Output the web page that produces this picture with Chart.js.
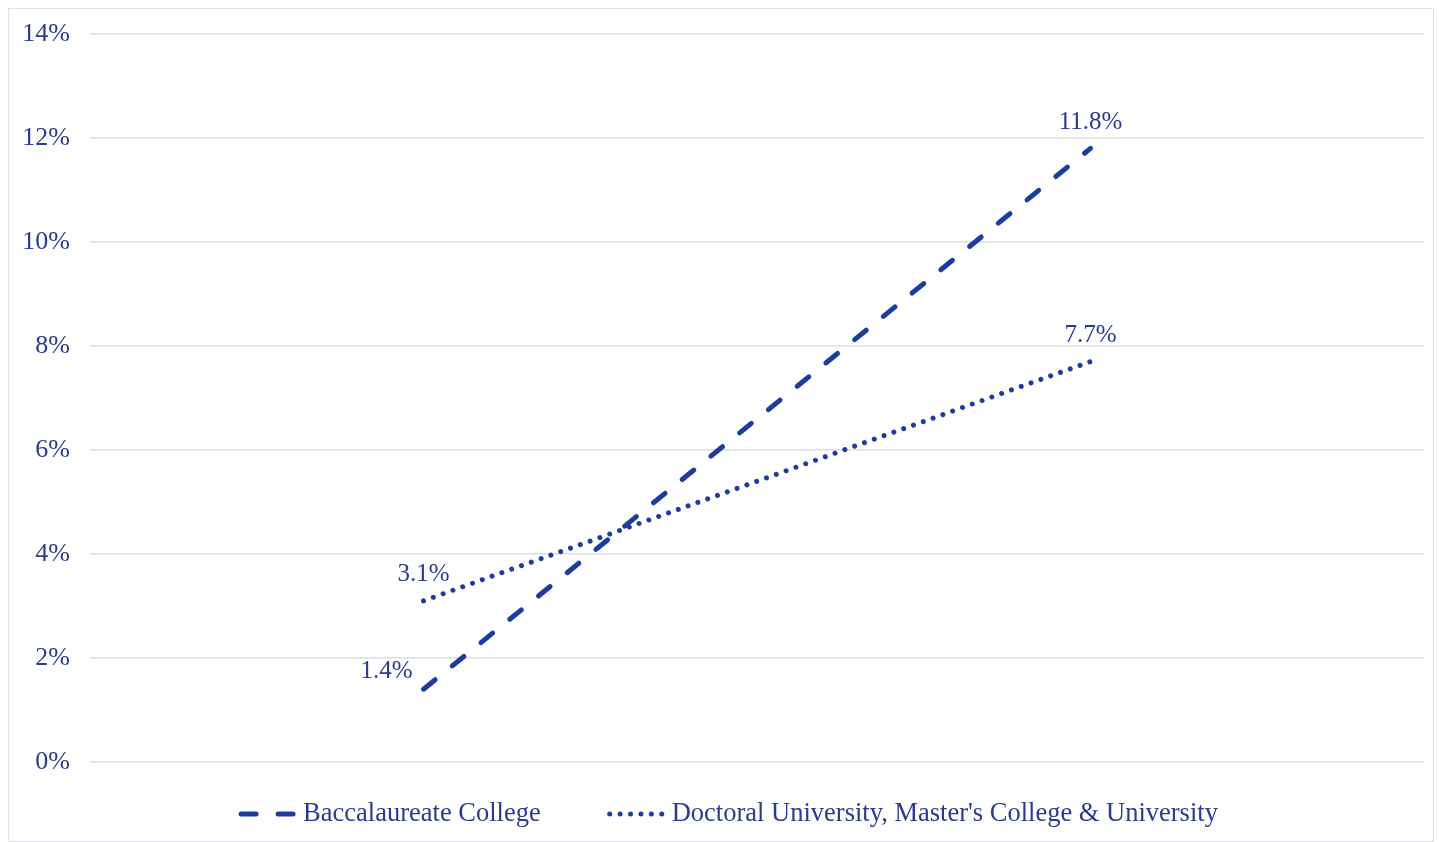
<!DOCTYPE html>
<html>
<head>
<meta charset="utf-8">
<script src="https://cdn.jsdelivr.net/npm/chart.js@4"></script>
<style>
    body { margin: 0; background: #fff; }
    #wrap {
        position: absolute;
        left: 8px;
        top: 8px;
        width: 1424px;
        height: 832px;
        border: 1px solid #dfe0e8;
    }
</style>
</head>
<body>
<div id="wrap"><canvas id="line-chart"></canvas></div>
<script>
const categories = ["", ""];
const baccalaureate = [1.4, 11.8];
const doctoral = [3.1, 7.7];
const seriesNames = ["Baccalaureate College", "Doctoral University, Master's College & University"];
const yTicks = [0, 2, 4, 6, 8, 10, 12, 14];

const textColor = "#2b3a8e";
const lineColor = "#1d3d9e";

// labels above the points, the first dashed one sits to its left
const pointLabels = {
    id: 'pointLabels',
    afterDatasetsDraw(chart) {
        const ctx = chart.ctx;
        ctx.save();
        ctx.font = '25px "Liberation Serif"';
        ctx.fillStyle = textColor;
        ctx.textAlign = 'center';
        ctx.textBaseline = 'middle';
        chart.data.datasets.forEach((ds, i) => {
            const meta = chart.getDatasetMeta(i);
            meta.data.forEach((pt, j) => {
                let dx = 0, dy = -26;
                if (i == 0 && j == 0) {
                    dx = -37;
                    dy = -18;
                }
                ctx.fillText(ds.data[j].toFixed(1) + '%', pt.x + dx, pt.y + dy);
            });
        });
        ctx.restore();
    }
};

// legend drawn by hand so the samples keep their dashes
const lineLegend = {
    id: 'lineLegend',
    afterDraw(chart) {
        const ctx = chart.ctx;
        const sampleW = 60;
        const textGap = 5;
        const itemGap = 66;
        const y = 805;
        ctx.save();
        ctx.font = '26.5px "Liberation Serif"';
        const items = chart.data.datasets.map(ds => ({ ds: ds, w: ctx.measureText(ds.label).width }));
        let total = 0;
        items.forEach((it, i) => {
            total += sampleW + textGap + it.w + (i > 0 ? itemGap : 0);
        });
        let x = chart.width / 2 + 7 - total / 2;
        items.forEach((it, i) => {
            if (i > 0) x += itemGap;
            ctx.strokeStyle = it.ds.borderColor;
            ctx.lineWidth = it.ds.borderWidth;
            ctx.lineCap = it.ds.borderCapStyle;
            ctx.setLineDash(it.ds.borderDash);
            ctx.beginPath();
            ctx.moveTo(x + 3, y);
            ctx.lineTo(x + sampleW, y);
            ctx.stroke();
            ctx.setLineDash([]);
            x += sampleW + textGap;
            ctx.fillStyle = textColor;
            ctx.textBaseline = 'middle';
            ctx.fillText(it.ds.label, x, y);
            x += it.w;
        });
        ctx.restore();
    }
};

new Chart(document.getElementById("line-chart"), {
    type: 'line',
    data: {
        labels: categories,
        datasets: [{
            label: seriesNames[0],
            data: baccalaureate,
            borderColor: lineColor,
            backgroundColor: lineColor,
            borderWidth: 5,
            borderDash: [15, 22],
            borderCapStyle: 'round',
            pointRadius: 0,
            tension: 0
        }, {
            label: seriesNames[1],
            data: doctoral,
            borderColor: lineColor,
            backgroundColor: lineColor,
            borderWidth: 5,
            borderDash: [0.01, 10.4],
            borderCapStyle: 'round',
            pointRadius: 0,
            tension: 0
        }]
    },
    options: {
        responsive: true,
        maintainAspectRatio: false,
        animation: false,
        layout: {
            padding: { left: 0, right: 9, top: 25, bottom: 79 }
        },
        scales: {
            x: {
                display: false,
                offset: true
            },
            y: {
                min: 0,
                max: 14,
                afterBuildTicks: (scale) => {
                    scale.ticks = yTicks.map(v => ({ value: v }));
                },
                afterFit: (scale) => {
                    scale.width = 81;
                    scale.paddingTop = 0;
                    scale.paddingBottom = 0;
                },
                grid: {
                    color: '#dcdde6',
                    lineWidth: 1.5,
                    drawTicks: false
                },
                border: { display: false },
                ticks: {
                    padding: 20,
                    color: textColor,
                    font: { family: 'Liberation Serif', size: 26 },
                    callback: (v) => v + '%'
                }
            }
        },
        plugins: {
            legend: { display: false },
            tooltip: { enabled: false }
        }
    },
    plugins: [pointLabels, lineLegend]
});
</script>
</body>
</html>
